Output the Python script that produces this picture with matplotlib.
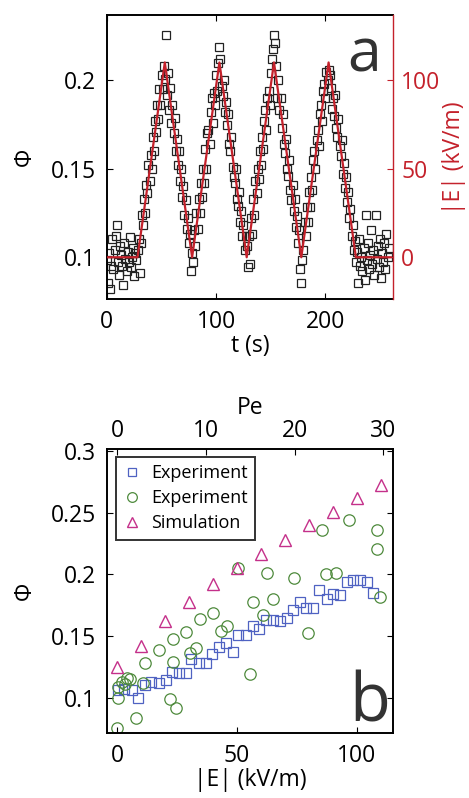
import numpy as np
import matplotlib
matplotlib.use("Agg")
import matplotlib.pyplot as plt

plt.rcParams['font.family'] = ['Open Sans', 'DejaVu Sans']

# --- panel a: volume fraction vs time, field protocol ---
t_a = np.arange(0, 259, 1.0)
phi_a = [
    # 0-28 baseline
    0.098, 0.085, 0.102, 0.082, 0.095, 0.110, 0.093, 0.104, 0.112, 0.118,
    0.097, 0.090, 0.106, 0.101, 0.095, 0.084, 0.108, 0.099, 0.092, 0.103,
    0.097, 0.111, 0.094, 0.100, 0.105, 0.089, 0.102, 0.098, 0.104,
    # 29-53 up
    0.110, 0.091, 0.108, 0.124, 0.118, 0.133, 0.125, 0.141, 0.136, 0.152,
    0.143, 0.158, 0.150, 0.168, 0.160, 0.177, 0.171, 0.186, 0.178, 0.195,
    0.186, 0.203, 0.195, 0.208, 0.201,
    # 54-78 down
    0.226, 0.192, 0.204, 0.183, 0.196, 0.176, 0.186, 0.170, 0.179, 0.160,
    0.167, 0.152, 0.160, 0.143, 0.150, 0.134, 0.140, 0.124, 0.132, 0.116,
    0.122, 0.108, 0.113, 0.092, 0.102,
    # 79-103 up
    0.097, 0.115, 0.106, 0.125, 0.116, 0.133, 0.125, 0.142, 0.134, 0.150,
    0.142, 0.161, 0.150, 0.170, 0.172, 0.164, 0.182, 0.190, 0.176, 0.193,
    0.186, 0.203, 0.194, 0.210, 0.219,
    # 104-128 down
    0.212, 0.197, 0.191, 0.200, 0.182, 0.188, 0.175, 0.181, 0.164, 0.160,
    0.168, 0.151, 0.145, 0.142, 0.150, 0.133, 0.129, 0.137, 0.120, 0.126,
    0.112, 0.118, 0.104, 0.112, 0.106,
    # 129-153 up
    0.094, 0.112, 0.096, 0.122, 0.113, 0.133, 0.124, 0.143, 0.136, 0.150,
    0.144, 0.160, 0.152, 0.168, 0.161, 0.177, 0.183, 0.172, 0.190, 0.194,
    0.186, 0.204, 0.212, 0.218, 0.226,
    # 154-178 down
    0.221, 0.208, 0.190, 0.200, 0.183, 0.190, 0.173, 0.181, 0.164, 0.159,
    0.167, 0.150, 0.146, 0.155, 0.138, 0.132, 0.141, 0.126, 0.133, 0.117,
    0.123, 0.108, 0.115, 0.093, 0.085,
    # 179-203 up
    0.098, 0.104, 0.120, 0.112, 0.128, 0.120, 0.137, 0.128, 0.145, 0.138,
    0.155, 0.160, 0.150, 0.166, 0.172, 0.163, 0.181, 0.186, 0.177, 0.194,
    0.198, 0.190, 0.205, 0.200, 0.206,
    # 204-228 down
    0.203, 0.196, 0.184, 0.190, 0.180, 0.192, 0.173, 0.168, 0.178, 0.163,
    0.157, 0.166, 0.147, 0.153, 0.139, 0.145, 0.131, 0.137, 0.122, 0.127,
    0.112, 0.118, 0.104, 0.109, 0.097,
    # 229-258 baseline
    0.103, 0.085, 0.110, 0.095, 0.100, 0.092, 0.105, 0.087, 0.124, 0.098,
    0.108, 0.093, 0.101, 0.115, 0.096, 0.104, 0.090, 0.124, 0.099, 0.106,
    0.094, 0.110, 0.088, 0.102, 0.097, 0.108, 0.093, 0.113, 0.100, 0.105,
]
t_field = [0, 28, 53, 78, 103, 128, 153, 178, 203, 228, 260]
E_field = [0, 0, 110, 0, 110, 0, 110, 0, 110, 0, 0]

# --- panel b: volume fraction vs field ---
E_exp1 = [0.4, 2.8, 6, 8.8, 11.6, 14.3, 17.5, 20.2, 22.7, 25.8, 28.7, 31, 34,
          37, 39.7, 42.5, 45.4, 48.5, 50.6, 53.6, 56.8, 59.3, 62, 64.9, 68,
          70.8, 73.5, 76.3, 78.8, 81.6, 84.4, 87.5, 90.3, 93, 95.8, 98.6,
          101.4, 104.2, 106.7]
phi_exp1 = [0.106, 0.107, 0.106, 0.100, 0.110, 0.113, 0.112, 0.114, 0.121,
            0.120, 0.120, 0.131, 0.128, 0.128, 0.1355, 0.1415, 0.144, 0.137,
            0.151, 0.151, 0.158, 0.1556, 0.163, 0.163, 0.162, 0.1645, 0.171,
            0.1775, 0.1726, 0.1726, 0.187, 0.180, 0.184, 0.183, 0.194, 0.1957,
            0.1957, 0.1935, 0.185]
E_exp2 = [0.0, 0.2, 0.4, 1.8, 3.2, 3.9, 5.3, 8.0, 10.9, 11.5, 17.3, 22.2, 24.6,
          23.1, 23.1, 28.6, 30.5, 33.0, 34.5, 39.9, 43.2, 45.9, 50.5, 55.3,
          56.9, 61.0, 62.6, 65.2, 74.0, 79.7, 85.6, 87.0, 91.3, 96.7, 108.4,
          108.7, 109.8]
phi_exp2 = [0.0755, 0.0995, 0.109, 0.113, 0.111, 0.1158, 0.1155, 0.0833, 0.112,
            0.128, 0.139, 0.0987, 0.0914, 0.1475, 0.129, 0.1535, 0.136, 0.1405,
            0.164, 0.169, 0.1545, 0.158, 0.205, 0.119, 0.1776, 0.1667, 0.2016,
            0.180, 0.197, 0.1528, 0.2364, 0.2006, 0.2016, 0.2439, 0.2364,
            0.2206, 0.1816]
E_sim = [0, 10, 20, 30, 40, 50, 60, 70, 80, 90, 100, 110]
phi_sim = [0.125, 0.142, 0.162, 0.178, 0.192, 0.205, 0.217, 0.228, 0.240,
           0.251, 0.262, 0.273]
pe_per_E = 30 / 111.2

red = '#c4212b'
fs = 16.5

fig = plt.figure(figsize=(4.69, 7.98), dpi=100)

# panel a
ax1 = fig.add_axes([0.228, 0.625, 0.610, 0.356])
ax1.plot(t_a, phi_a, 's', ms=6.2, mfc='none', mec='#222222', mew=0.9)
ax1.set_xlim(0, 262)
ax1.set_ylim(0.076, 0.237)
ax1.set_xticks([0, 100, 200])
ax1.set_yticks([0.1, 0.15, 0.2])
ax1.set_yticklabels(['0.1', '0.15', '0.2'])
ax1.tick_params(direction='in', length=4, labelsize=fs, top=True, pad=8)
ax1.set_xlabel('t (s)', fontsize=fs, labelpad=0)
ax1.set_ylabel('Φ', fontsize=fs, labelpad=10)
ax1.spines['right'].set_visible(False)
for s in ['left', 'top', 'bottom']:
    ax1.spines[s].set_linewidth(1.4)
ax1.text(0.90, 0.80, 'a', transform=ax1.transAxes, fontsize=44,
         color='#333333', ha='center', va='baseline')

ax1r = ax1.twinx()
ax1r.plot(t_field, E_field, '-', color=red, lw=1.6)
ax1r.set_ylim(-23.7, 136.7)
ax1r.set_xlim(0, 262)
ax1r.set_yticks([0, 50, 100])
ax1r.tick_params(direction='in', length=4, labelsize=fs, colors=red, pad=6)
ax1r.spines['right'].set_color(red)
ax1r.spines['right'].set_linewidth(1.0)
for s in ['left', 'top', 'bottom']:
    ax1r.spines[s].set_visible(False)
ax1r.set_ylabel('|E| (kV/m)', fontsize=fs, color=red, labelpad=1)

# panel b
ax2 = fig.add_axes([0.228, 0.0815, 0.610, 0.356])
ax2.plot(E_exp1, phi_exp1, 's', ms=7.2, mfc='none', mec='#4f62c2', mew=0.9,
         label='Experiment')
ax2.plot(E_exp2, phi_exp2, 'o', ms=8.2, mfc='none', mec='#4e8a3c', mew=0.9,
         label='Experiment')
ax2.plot(E_sim, phi_sim, '^', ms=9, mfc='none', mec='#c4308a', mew=1.0,
         label='Simulation')
ax2.set_xlim(-4.3, 115.2)
ax2.set_ylim(0.0713, 0.302)
ax2.set_xticks([0, 50, 100])
ax2.set_yticks([0.1, 0.15, 0.2, 0.25, 0.3])
ax2.set_yticklabels(['0.1', '0.15', '0.2', '0.25', '0.3'])
ax2.tick_params(direction='in', length=4, labelsize=fs, right=True, pad=8)
ax2.set_xlabel('|E| (kV/m)', fontsize=fs, labelpad=0)
ax2.set_ylabel('Φ', fontsize=fs, labelpad=10)
for s in ax2.spines.values():
    s.set_linewidth(1.4)
ax2.text(0.92, 0.04, 'b', transform=ax2.transAxes, fontsize=48,
         color='#333333', ha='center', va='baseline')
leg = ax2.legend(loc='upper left', bbox_to_anchor=(0.031, 0.972),
                 fontsize=13, frameon=True, fancybox=False,
                 handlelength=1.0, handletextpad=0.55, borderpad=0.4,
                 labelspacing=0.4, borderaxespad=0, markerscale=0.85)
leg.get_frame().set_edgecolor('black')
leg.get_frame().set_linewidth(1.4)

ax2t = ax2.twiny()
ax2t.set_xlim(-4.3 * pe_per_E, 115.2 * pe_per_E)
ax2t.set_xticks([0, 10, 20, 30])
ax2t.tick_params(direction='in', length=4, labelsize=fs, pad=4)
ax2t.set_xlabel('Pe', fontsize=fs, labelpad=4)
for s in ax2t.spines.values():
    s.set_visible(False)

fig.savefig('out.png', dpi=100)
